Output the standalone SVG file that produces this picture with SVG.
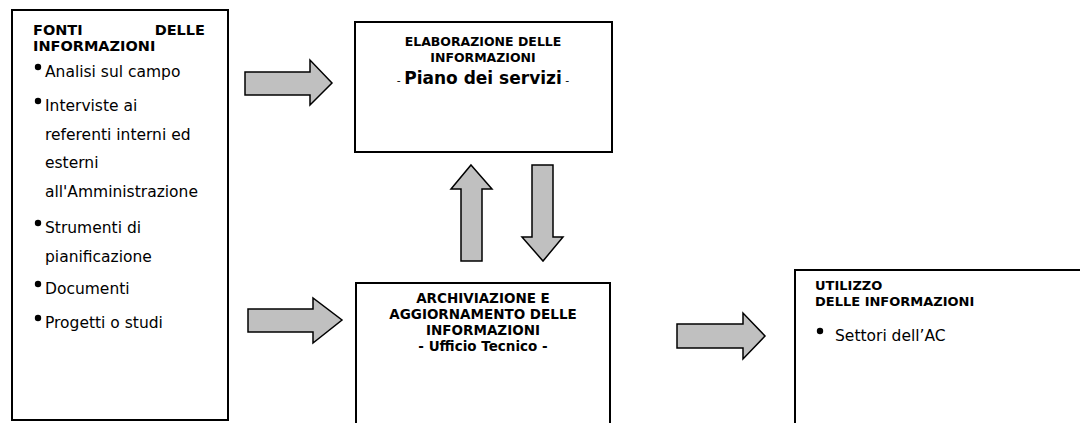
<svg xmlns="http://www.w3.org/2000/svg" width="1080" height="423" viewBox="0 0 1080 423">
<style>
.box{fill:#fff;stroke:#000;stroke-width:2}
.arr{fill:#c0c0c0;stroke:#000;stroke-width:1.5;stroke-linejoin:miter}
.h{font-family:"DejaVu Sans",sans-serif;font-weight:bold;fill:#000}
.t{font-family:"DejaVu Sans",sans-serif;font-size:15.5px;fill:#000}
.c{text-anchor:middle}
.dot{fill:#000}
</style>
<rect width="1080" height="423" fill="#fff"/>
<g id="fonti">
<rect class="box" x="12" y="10" width="216" height="410"/>
<text class="h" x="33" y="35" font-size="14.5">FONTI</text>
<text class="h" x="205" y="35" font-size="14.5" text-anchor="end">DELLE</text>
<text class="h" x="33" y="51" font-size="14.5">INFORMAZIONI</text>
<circle class="dot" cx="38" cy="67" r="3.2"/>
<text class="t" x="45" y="77">Analisi sul campo</text>
<circle class="dot" cx="38" cy="101" r="3.2"/>
<text class="t" x="45" y="111">Interviste ai</text>
<text class="t" x="45" y="140">referenti interni ed</text>
<text class="t" x="45" y="168">esterni</text>
<text class="t" x="45" y="197">all'Amministrazione</text>
<circle class="dot" cx="38" cy="223" r="3.2"/>
<text class="t" x="45" y="233">Strumenti di</text>
<text class="t" x="45" y="262">pianificazione</text>
<circle class="dot" cx="38" cy="284" r="3.2"/>
<text class="t" x="45" y="294">Documenti</text>
<circle class="dot" cx="38" cy="318" r="3.2"/>
<text class="t" x="45" y="328">Progetti o studi</text>
</g>
<g id="elaborazione">
<rect class="box" x="355" y="22" width="257" height="130"/>
<text class="h c" x="483" y="46" font-size="12.5">ELABORAZIONE DELLE</text>
<text class="h c" x="483" y="62" font-size="12.5">INFORMAZIONI</text>
<text class="c" x="483" y="84" font-family="DejaVu Sans, sans-serif"><tspan font-size="11">- </tspan><tspan font-weight="bold" font-size="17">Piano dei servizi</tspan><tspan font-size="11"> -</tspan></text>
</g>
<g id="archiviazione">
<rect class="box" x="356" y="283" width="254" height="150"/>
<text class="h c" x="483" y="303" font-size="13.5">ARCHIVIAZIONE E</text>
<text class="h c" x="483" y="319" font-size="13.5">AGGIORNAMENTO DELLE</text>
<text class="h c" x="483" y="335" font-size="13.5">INFORMAZIONI</text>
<text class="h c" x="483" y="351" font-size="13.5">- Ufficio Tecnico -</text>
</g>
<g id="utilizzo">
<rect class="box" x="795" y="270" width="300" height="170"/>
<text class="h" x="815" y="290" font-size="13">UTILIZZO</text>
<text class="h" x="815" y="306" font-size="13">DELLE INFORMAZIONI</text>
<circle class="dot" cx="820" cy="331" r="3.2"/>
<text class="t" x="835" y="341">Settori dell’AC</text>
</g>
<g id="connectors">
<polygon class="arr" points="245,72 310,72 310,60 332,83 310,105 310,95 245,95"/>
<polygon class="arr" points="471,165 492,189 482,189 482,261 461,261 461,189 451,189"/>
<polygon class="arr" points="532,165 553,165 553,237 563,237 543,261 522,237 532,237"/>
<polygon class="arr" points="248,309 313,309 313,298 342,320 313,343 313,332 248,332"/>
<polygon class="arr" points="677,324 743,324 743,313 765,336 743,359 743,348 677,348"/>
</g>
</svg>
